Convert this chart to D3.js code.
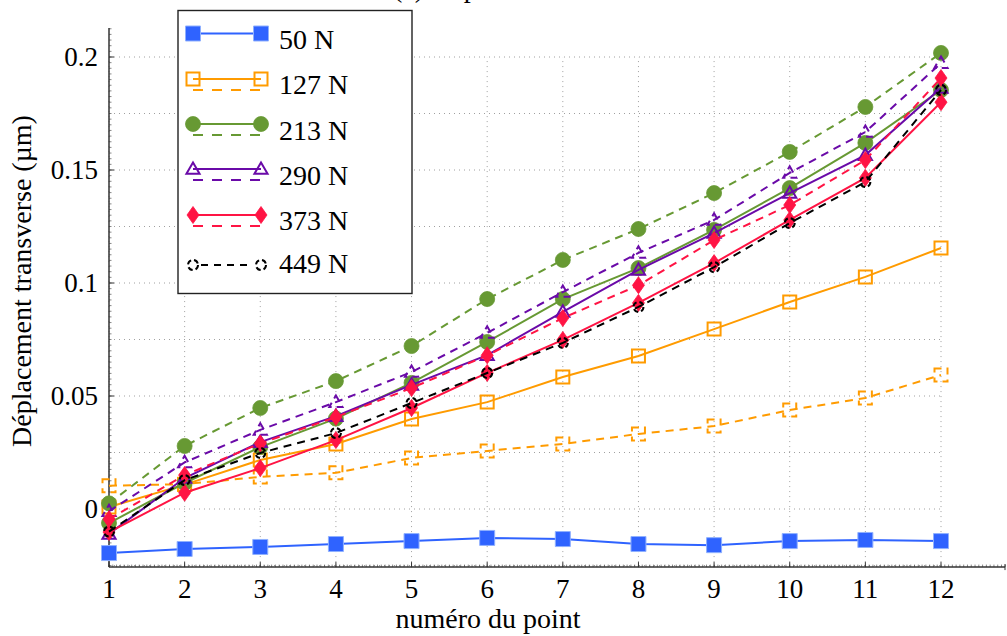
<!DOCTYPE html>
<html>
<head>
<meta charset="utf-8">
<script src="https://cdn.jsdelivr.net/npm/d3@7"></script>
<style>
  html, body { margin: 0; padding: 0; background: #fff; }
  svg { display: block; }
  text { font-family: "Liberation Serif", "DejaVu Serif", serif; fill: #000; }
</style>
</head>
<body>
<svg id="chart" width="1007" height="636"></svg>
<script>
// ---------- data ----------
const points = [1, 2, 3, 4, 5, 6, 7, 8, 9, 10, 11, 12];
const xTicks = [1, 2, 3, 4, 5, 6, 7, 8, 9, 10, 11, 12];
const yTicks = [0, 0.05, 0.1, 0.15, 0.2];
const yTickLabels = ["0", "0.05", "0.1", "0.15", "0.2"];
const yGrid = [-0.025, 0, 0.025, 0.05, 0.075, 0.1, 0.125, 0.15, 0.175, 0.2];

const f50_solid  = [-0.0195, -0.0177, -0.0168, -0.0155, -0.0142, -0.0128, -0.0133, -0.0155, -0.0160, -0.0142, -0.0137, -0.0142];
const f127_solid = [0.0009, 0.0108, 0.0217, 0.0288, 0.0398, 0.0473, 0.0584, 0.0677, 0.0796, 0.0916, 0.1027, 0.1155];
const f127_dash  = [0.0103, 0.0110, 0.0142, 0.0160, 0.0226, 0.0257, 0.0288, 0.0332, 0.0367, 0.0438, 0.0491, 0.0593];
const f213_solid = [-0.0062, 0.0115, 0.0274, 0.0400, 0.0558, 0.0739, 0.0929, 0.1066, 0.1235, 0.1420, 0.1620, 0.1854];
const f213_dash  = [0.0025, 0.0279, 0.0447, 0.0566, 0.0721, 0.0929, 0.1102, 0.1239, 0.1398, 0.1580, 0.1779, 0.2018];
const f290_solid = [-0.0110, 0.0137, 0.0296, 0.0411, 0.0549, 0.0681, 0.0872, 0.1058, 0.1221, 0.1398, 0.1566, 0.1863];
const f290_dash  = [-0.0010, 0.0206, 0.0350, 0.0473, 0.0606, 0.0779, 0.0960, 0.1133, 0.1279, 0.1487, 0.1668, 0.1973];
const f373_solid = [-0.0102, 0.0072, 0.0181, 0.0305, 0.0447, 0.0602, 0.0748, 0.0912, 0.1088, 0.1279, 0.1465, 0.1800];
const f373_dash  = [-0.0045, 0.0150, 0.0290, 0.0407, 0.0535, 0.0680, 0.0845, 0.0990, 0.1190, 0.1345, 0.1544, 0.1907];
const f449_dash  = [-0.0100, 0.0128, 0.0248, 0.0336, 0.0469, 0.0602, 0.0735, 0.0894, 0.1070, 0.1265, 0.1447, 0.1854];

const legendLabels = ["50 N", "127 N", "213 N", "290 N", "373 N", "449 N"];

// ---------- styles ----------
const C = {
  blue: "#2f63ff", orange: "#ff9b00", green: "#679933",
  purple: "#6a0aa8", red: "#ff1444", black: "#000"
};
const series = [
  { v: f50_solid,  color: C.blue,   dash: null, marker: "sqfill" },
  { v: f127_solid, color: C.orange, dash: null, marker: "sqopen" },
  { v: f127_dash,  color: C.orange, dash: "8,6", marker: "sqopen" },
  { v: f213_solid, color: C.green,  dash: null, marker: "circfill" },
  { v: f213_dash,  color: C.green,  dash: "8,6", marker: "circfill" },
  { v: f290_solid, color: C.purple, dash: null, marker: "triopen" },
  { v: f290_dash,  color: C.purple, dash: "8,6", marker: "triopen" },
  { v: f373_solid, color: C.red,    dash: null, marker: "diamond" },
  { v: f373_dash,  color: C.red,    dash: "8,6", marker: "diamond" },
  { v: f449_dash,  color: C.black,  dash: "8,6", marker: "circopen" }
];

// ---------- scales ----------
const svg = d3.select("#chart");
const x = d3.scaleLinear().domain([1, 12]).range([109, 941]);
const y = d3.scaleLinear().domain([0, 0.2]).range([509, 57]);
const xAxisEnd = 1005;
const yBottom = y(-0.0257), yTop = y(0.2128);

// title (mostly above the page, as in the reference)
svg.append("text").attr("x", 393).attr("y", -3).attr("font-size", 28)
  .text("(a) Déplacement");

// grid
const grid = svg.append("g").attr("stroke", "#a0a0a0").attr("stroke-width", 1)
  .attr("stroke-dasharray", "1,4");
xTicks.forEach(t => grid.append("line")
  .attr("x1", x(t)).attr("x2", x(t)).attr("y1", yBottom).attr("y2", y(0.2)));
yGrid.forEach(t => grid.append("line")
  .attr("x1", x(1)).attr("x2", x(12)).attr("y1", y(t)).attr("y2", y(t)));

// minor ticks
const minor = svg.append("g").attr("stroke", "#555").attr("stroke-width", 0.7);
d3.range(-0.025, 0.2126, 0.0025).forEach(t => minor.append("line")
  .attr("x1", x(1)).attr("x2", x(1) + 2.5).attr("y1", y(t)).attr("y2", y(t)));
d3.range(1, 12.86, 0.05).forEach(t => minor.append("line")
  .attr("x1", x(t)).attr("x2", x(t)).attr("y1", yBottom).attr("y2", yBottom - 2.5));

// axes lines
svg.append("line").attr("x1", x(1)).attr("x2", x(1)).attr("y1", yTop).attr("y2", yBottom)
  .attr("stroke", "#333").attr("stroke-width", 1.5);
svg.append("line").attr("x1", x(1)).attr("x2", xAxisEnd).attr("y1", yBottom).attr("y2", yBottom)
  .attr("stroke", "#333").attr("stroke-width", 1.5);
svg.append("line").attr("x1", xAxisEnd).attr("x2", xAxisEnd).attr("y1", yBottom - 3).attr("y2", yBottom + 3)
  .attr("stroke", "#333").attr("stroke-width", 1);

// major ticks
yTicks.forEach(t => svg.append("line").attr("x1", x(1)).attr("x2", x(1) + 5)
  .attr("y1", y(t)).attr("y2", y(t)).attr("stroke", "#333").attr("stroke-width", 1));
xTicks.forEach(t => svg.append("line").attr("x1", x(t)).attr("x2", x(t))
  .attr("y1", yBottom).attr("y2", yBottom - 5).attr("stroke", "#333").attr("stroke-width", 1));

// tick labels
yTicks.forEach((t, i) => svg.append("text").attr("x", 98).attr("y", y(t) + 9)
  .attr("text-anchor", "end").attr("font-size", 27).text(yTickLabels[i]));
xTicks.forEach(t => svg.append("text").attr("x", x(t)).attr("y", 598)
  .attr("text-anchor", "middle").attr("font-size", 27).text(String(t)));

// axis titles
svg.append("text").attr("x", 488).attr("y", 628).attr("text-anchor", "middle")
  .attr("font-size", 28).text("numéro du point");
svg.append("text").attr("transform", "translate(31,281) rotate(-90)")
  .attr("text-anchor", "middle").attr("font-size", 28).text("Déplacement transverse (µm)");

// ---------- markers ----------
function drawMarker(g, type, cx, cy, color, dash) {
  const t = `translate(${cx},${cy})`;
  if (type === "sqfill") {
    g.append("path").attr("d", d3.symbol(d3.symbolSquare, 225)()).attr("transform", t)
      .attr("fill", color).attr("stroke", "#8fb0ff").attr("stroke-width", 1);
  } else if (type === "sqopen") {
    g.append("path").attr("d", d3.symbol(d3.symbolSquare, 169)()).attr("transform", t)
      .attr("fill", "none").attr("stroke", color).attr("stroke-width", 2)
      .attr("stroke-dasharray", dash ? "7,5" : null);
  } else if (type === "circfill") {
    g.append("circle").attr("cx", cx).attr("cy", cy).attr("r", 7.5)
      .attr("fill", color).attr("stroke", color).attr("stroke-width", 0.8);
  } else if (type === "triopen") {
    g.append("path").attr("d", d3.symbol(d3.symbolTriangle, 75)()).attr("transform", `translate(${cx},${cy + 1})`)
      .attr("fill", "none").attr("stroke", color).attr("stroke-width", 2)
      .attr("stroke-dasharray", dash ? "7,5" : null);
  } else if (type === "diamond") {
    g.append("path").attr("d", "M0,-8.5L6,0L0,8.5L-6,0Z").attr("transform", t)
      .attr("fill", color).attr("stroke", color).attr("stroke-width", 0.8);
  } else if (type === "circopen") {
    g.append("circle").attr("cx", cx).attr("cy", cy).attr("r", 5)
      .attr("fill", "none").attr("stroke", color).attr("stroke-width", 2)
      .attr("stroke-dasharray", "5,3");
  }
}

// ---------- series ----------
const line = d3.line().x((d, i) => x(points[i])).y(d => y(d));
series.forEach(s => {
  const g = svg.append("g");
  g.append("path").datum(s.v).attr("d", line).attr("fill", "none")
    .attr("stroke", s.color).attr("stroke-width", 2)
    .attr("stroke-dasharray", s.dash);
  s.v.forEach((v, i) => drawMarker(g, s.marker, x(points[i]), y(v), s.color, s.dash));
});

// ---------- legend ----------
const lg = svg.append("g");
lg.append("rect").attr("x", 178).attr("y", 10.5).attr("width", 234).attr("height", 283)
  .attr("fill", "#fff").attr("stroke", "#222").attr("stroke-width", 1.4);
const lx1 = 193, lx2 = 261, ltx = 279;
const legendRows = [
  { solid: series[0], dashed: null, yc: 33.5, tb: 49 },
  { solid: series[1], dashed: series[2], yc: 79, tb: 94 },
  { solid: series[3], dashed: series[4], yc: 124, tb: 140 },
  { solid: series[5], dashed: series[6], yc: 169, tb: 185 },
  { solid: series[7], dashed: series[8], yc: 215, tb: 230 },
  { solid: null, dashed: series[9], yc: 265, tb: 273 }
];
legendRows.forEach((r, i) => {
  if (r.solid) {
    lg.append("line").attr("x1", lx1).attr("x2", lx2).attr("y1", r.yc).attr("y2", r.yc)
      .attr("stroke", r.solid.color).attr("stroke-width", 2);
    drawMarker(lg, r.solid.marker, lx1, r.yc, r.solid.color, null);
    drawMarker(lg, r.solid.marker, lx2, r.yc, r.solid.color, null);
    if (r.dashed) {
      lg.append("line").attr("x1", lx1).attr("x2", lx2).attr("y1", r.yc + 11).attr("y2", r.yc + 11)
        .attr("stroke", r.dashed.color).attr("stroke-width", 2).attr("stroke-dasharray", "10,9");
    }
  } else {
    lg.append("line").attr("x1", lx1 + 8).attr("x2", lx2 - 8).attr("y1", r.yc).attr("y2", r.yc)
      .attr("stroke", r.dashed.color).attr("stroke-width", 2).attr("stroke-dasharray", "7,6");
    drawMarker(lg, r.dashed.marker, lx1, r.yc, r.dashed.color, true);
    drawMarker(lg, r.dashed.marker, lx2, r.yc, r.dashed.color, true);
  }
  lg.append("text").attr("x", ltx).attr("y", r.tb).attr("font-size", 28).text(legendLabels[i]);
});
</script>
</body>
</html>
